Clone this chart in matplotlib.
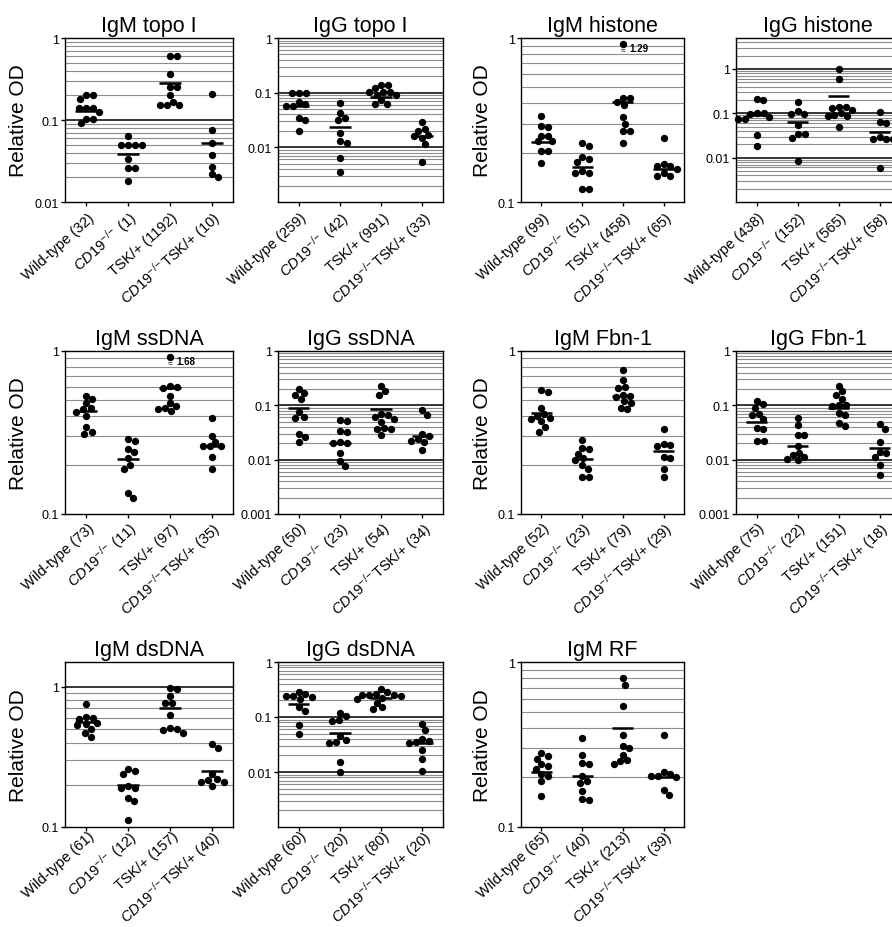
import numpy as np
import matplotlib
matplotlib.use("Agg")
import matplotlib.pyplot as plt
from matplotlib.transforms import ScaledTranslation

plt.rcParams['font.family'] = ['Liberation Sans', 'DejaVu Sans']
plt.rcParams['mathtext.fontset'] = 'custom'
plt.rcParams['mathtext.rm'] = 'Liberation Sans'
plt.rcParams['mathtext.it'] = 'Liberation Sans:italic'
plt.rcParams['mathtext.bf'] = 'Liberation Sans:bold'

# ---------------- data ----------------
group_names = ["Wild-type", r"$\mathit{CD19}^{\!-\!/\!-}$", "TSK/+", r"$\mathit{CD19}^{\!-\!/\!-}$TSK/+"]

titles = ["IgM topo I", "IgG topo I", "IgM histone", "IgG histone",
          "IgM ssDNA", "IgG ssDNA", "IgM Fbn-1", "IgG Fbn-1",
          "IgM dsDNA", "IgG dsDNA", "IgM RF"]

igm_topo1 = [[0.20, 0.20, 0.18, 0.14, 0.14, 0.14, 0.124, 0.103, 0.103, 0.091],
             [0.064, 0.050, 0.050, 0.050, 0.050, 0.033, 0.026, 0.026, 0.018],
             [0.60, 0.60, 0.36, 0.25, 0.25, 0.20, 0.168, 0.153, 0.153, 0.153],
             [0.21, 0.076, 0.052, 0.037, 0.027, 0.022, 0.020]]
igm_topo1_mean = [0.128, 0.039, 0.28, 0.053]
igm_topo1_n = [32, 1, 1192, 10]

igg_topo1 = [[0.10, 0.10, 0.10, 0.067, 0.062, 0.058, 0.058, 0.034, 0.031, 0.020],
             [0.064, 0.042, 0.034, 0.031, 0.018, 0.013, 0.012, 0.0063, 0.0036],
             [0.14, 0.14, 0.12, 0.105, 0.105, 0.105, 0.09, 0.09, 0.072, 0.062, 0.062],
             [0.029, 0.022, 0.020, 0.017, 0.016, 0.015, 0.0116, 0.0054]]
igg_topo1_mean = [0.058, 0.024, 0.083, 0.016]
igg_topo1_n = [259, 42, 991, 33]

igm_histone = [[0.333, 0.29, 0.285, 0.254, 0.254, 0.234, 0.234, 0.205, 0.205, 0.172],
               [0.229, 0.22, 0.189, 0.183, 0.176, 0.155, 0.151, 0.151, 0.12, 0.12],
               [1.29, 0.43, 0.43, 0.41, 0.39, 0.33, 0.30, 0.27, 0.27, 0.23],
               [0.245, 0.17, 0.165, 0.165, 0.16, 0.15, 0.145, 0.145]]
igm_histone_mean = [0.231, 0.164, 0.406, 0.16]
igm_histone_n = [99, 51, 458, 65]

igg_histone = [[0.215, 0.20, 0.10, 0.10, 0.097, 0.082, 0.075, 0.075, 0.032, 0.0186],
               [0.18, 0.11, 0.095, 0.095, 0.055, 0.035, 0.035, 0.028, 0.0085],
               [0.98, 0.59, 0.14, 0.14, 0.13, 0.12, 0.10, 0.09, 0.085, 0.085, 0.05],
               [0.108, 0.064, 0.062, 0.03, 0.027, 0.027, 0.026, 0.0058]]
igg_histone_mean = [0.09, 0.064, 0.243, 0.038]
igg_histone_n = [438, 152, 565, 58]

igm_ssdna = [[0.53, 0.506, 0.48, 0.45, 0.44, 0.42, 0.40, 0.34, 0.32, 0.31],
             [0.29, 0.28, 0.25, 0.24, 0.22, 0.20, 0.19, 0.135, 0.126],
             [1.68, 0.61, 0.60, 0.59, 0.53, 0.48, 0.46, 0.45, 0.44, 0.43],
             [0.39, 0.30, 0.275, 0.26, 0.26, 0.26, 0.225, 0.19]]
igm_ssdna_mean = [0.43, 0.217, 0.597, 0.262]
igm_ssdna_n = [73, 11, 97, 35]

igg_ssdna = [[0.20, 0.17, 0.155, 0.13, 0.075, 0.062, 0.058, 0.030, 0.026, 0.021],
             [0.053, 0.051, 0.033, 0.032, 0.021, 0.020, 0.020, 0.013, 0.0095, 0.0078],
             [0.23, 0.18, 0.155, 0.07, 0.065, 0.062, 0.055, 0.05, 0.038, 0.037, 0.036, 0.028],
             [0.082, 0.065, 0.030, 0.027, 0.024, 0.022, 0.021, 0.015]]
igg_ssdna_mean = [0.089, 0.020, 0.087, 0.0275]
igg_ssdna_n = [50, 23, 54, 34]

igm_fbn1 = [[0.58, 0.56, 0.45, 0.41, 0.40, 0.39, 0.38, 0.37, 0.34, 0.32],
            [0.285, 0.255, 0.25, 0.235, 0.22, 0.215, 0.20, 0.19, 0.168, 0.168],
            [0.76, 0.66, 0.60, 0.59, 0.54, 0.53, 0.52, 0.49, 0.48, 0.45, 0.44],
            [0.33, 0.27, 0.265, 0.26, 0.225, 0.22, 0.19, 0.168]]
igm_fbn1_mean = [0.417, 0.217, 0.53, 0.242]
igm_fbn1_n = [52, 23, 79, 29]

igg_fbn1 = [[0.12, 0.105, 0.09, 0.07, 0.065, 0.055, 0.038, 0.036, 0.022, 0.022],
            [0.058, 0.043, 0.029, 0.028, 0.018, 0.0135, 0.012, 0.011, 0.0105, 0.0097],
            [0.23, 0.18, 0.155, 0.13, 0.10, 0.10, 0.097, 0.072, 0.065, 0.048, 0.042],
            [0.045, 0.037, 0.021, 0.014, 0.013, 0.011, 0.008, 0.0053]]
igg_fbn1_mean = [0.05, 0.018, 0.09, 0.0167]
igg_fbn1_n = [75, 22, 151, 18]

igm_dsdna = [[0.75, 0.61, 0.60, 0.59, 0.55, 0.54, 0.53, 0.50, 0.47, 0.44],
             [0.26, 0.25, 0.24, 0.195, 0.19, 0.19, 0.16, 0.153, 0.113],
             [0.98, 0.97, 0.86, 0.77, 0.76, 0.63, 0.51, 0.50, 0.49, 0.47],
             [0.39, 0.365, 0.237, 0.22, 0.215, 0.21, 0.21, 0.195]]
igm_dsdna_mean = [0.56, 0.2, 0.70, 0.249]
igm_dsdna_n = [61, 12, 157, 40]

igg_dsdna = [[0.28, 0.26, 0.24, 0.24, 0.23, 0.21, 0.15, 0.13, 0.073, 0.05],
             [0.12, 0.105, 0.09, 0.085, 0.045, 0.038, 0.035, 0.033, 0.015, 0.0098],
             [0.32, 0.28, 0.26, 0.25, 0.25, 0.25, 0.24, 0.22, 0.21, 0.18, 0.15, 0.14],
             [0.075, 0.057, 0.039, 0.036, 0.035, 0.034, 0.025, 0.017, 0.0106]]
igg_dsdna_mean = [0.169, 0.052, 0.22, 0.033]
igg_dsdna_n = [60, 20, 80, 20]

igm_rf = [[0.28, 0.27, 0.26, 0.24, 0.235, 0.225, 0.21, 0.205, 0.19, 0.155],
          [0.345, 0.275, 0.245, 0.24, 0.205, 0.19, 0.185, 0.165, 0.148, 0.145],
          [0.80, 0.73, 0.54, 0.36, 0.31, 0.30, 0.275, 0.255, 0.25, 0.24],
          [0.36, 0.215, 0.21, 0.205, 0.205, 0.20, 0.168, 0.157]]
igm_rf_mean = [0.214, 0.204, 0.398, 0.2]
igm_rf_n = [65, 40, 213, 39]

panel_values = [igm_topo1, igg_topo1, igm_histone, igg_histone,
                igm_ssdna, igg_ssdna, igm_fbn1, igg_fbn1,
                igm_dsdna, igg_dsdna, igm_rf]
panel_means = [igm_topo1_mean, igg_topo1_mean, igm_histone_mean, igg_histone_mean,
               igm_ssdna_mean, igg_ssdna_mean, igm_fbn1_mean, igg_fbn1_mean,
               igm_dsdna_mean, igg_dsdna_mean, igm_rf_mean]
panel_n = [igm_topo1_n, igg_topo1_n, igm_histone_n, igg_histone_n,
           igm_ssdna_n, igg_ssdna_n, igm_fbn1_n, igg_fbn1_n,
           igm_dsdna_n, igg_dsdna_n, igm_rf_n]

y_min = [0.01, 0.001, 0.1, 0.001, 0.1, 0.001, 0.1, 0.001, 0.1, 0.001, 0.1]
y_max = [1, 1, 1, 5, 1, 1, 1, 1, 1.5, 1, 1]
grid_top = [1, 1, 1, 4, 1, 1, 1, 1, 1, 1, 1]
y_ticks = [[0.01, 0.1, 1], [0.01, 0.1, 1], [0.1, 1], [0.01, 0.1, 1],
           [0.1, 1], [0.001, 0.01, 0.1, 1], [0.1, 1], [0.001, 0.01, 0.1, 1],
           [0.1, 1], [0.01, 0.1, 1], [0.1, 1]]
y_ticklabels = [["0.01", "0.1", "1"], ["0.01", "0.1", "1"], ["0.1", "1"], ["0.01", "0.1", "1"],
                ["0.1", "1"], ["0.001", "0.01", "0.1", "1"], ["0.1", "1"], ["0.001", "0.01", "0.1", "1"],
                ["0.1", "1"], ["0.01", "0.1", "1"], ["0.1", "1"]]

# ---------------- layout ----------------
W, H = 892, 928
col_left = [65, 278, 521, 736]
col_right = [233, 443, 684, 900]
row_top = [39, 352, 663]
row_bot = [203, 515, 828]
row_label_pad = [6.5, 5.5, 2.0]
ylabel_x = [-0.22, None, -0.18, None]

fig = plt.figure(figsize=(W / 100, H / 100), dpi=100)

DOT_D = 7.0  # px collision diameter


def swarm(vals, ylo, yhi, h_px, px_per_unit):
    ypx = (np.log10(vals) - np.log10(ylo)) / (np.log10(yhi) - np.log10(ylo)) * h_px
    order = np.argsort(-ypx, kind="stable")
    xs = np.zeros(len(vals))
    placed = []
    for i in order:
        y = ypx[i]
        cands = [0.0]
        for (xj, yj) in placed:
            dy = abs(y - yj)
            if dy < DOT_D:
                dx = np.sqrt(DOT_D ** 2 - dy ** 2)
                cands += [xj + dx, xj - dx]
        cands = sorted(cands, key=lambda c: (abs(c), -c))
        for c in cands:
            ok = all((c - xj) ** 2 + (y - yj) ** 2 >= DOT_D ** 2 - 1e-6 for xj, yj in placed)
            if ok:
                xs[i] = c
                placed.append((c, y))
                break
    return xs / px_per_unit


for p in range(11):
    r, c = divmod(p, 4)
    l, rr = col_left[c], col_right[c]
    t, b = row_top[r], row_bot[r]
    ax = fig.add_axes([l / W, 1 - b / H, (rr - l) / W, (b - t) / H])
    ylo, yhi = y_min[p], y_max[p]
    ax.set_yscale("log")
    ax.set_ylim(ylo, yhi)
    ax.set_xlim(-0.5, 3.5)
    h_px = b - t
    ppu = (rr - l) / 4.0

    # gridlines
    k0 = int(np.floor(np.log10(ylo)))
    k1 = int(np.ceil(np.log10(yhi)))
    for k in range(k0, k1 + 1):
        for m in range(1, 10):
            v = m * 10.0 ** k
            if ylo < v <= grid_top[p] * 1.0001:
                if m == 1:
                    ax.axhline(v, color="black", lw=1.1, zorder=1)
                else:
                    ax.axhline(v, color="#8c8c8c", lw=0.8, zorder=1)

    cap = 0.92 * yhi
    for g in range(4):
        vals = np.array(panel_values[p][g], dtype=float)
        shown = np.minimum(vals, cap)
        offs = swarm(shown, ylo, yhi, h_px, ppu)
        ax.scatter(g + offs, shown, s=28, color="black", linewidths=0, zorder=3, clip_on=False)
        for v, o in zip(vals, offs):
            if v > yhi:
                tr = ax.transData
                ax.text(g + o, cap, "\u2248", fontsize=6, ha="center", va="center",
                        transform=tr + ScaledTranslation(0, -6 / 100, fig.dpi_scale_trans))
                ax.text(g + o, cap, "%.2f" % v, fontsize=7, fontweight="bold", ha="left", va="center",
                        transform=tr + ScaledTranslation(6 / 100, -4 / 100, fig.dpi_scale_trans))
        ax.hlines(panel_means[p][g], g - 0.26, g + 0.26, color="black", lw=1.8, zorder=4)

    for s in ax.spines.values():
        s.set_color("black")
        s.set_linewidth(1.0)
        s.set_zorder(5)

    ax.set_yticks(y_ticks[p])
    ax.set_yticklabels(y_ticklabels[p])
    ax.yaxis.set_minor_locator(matplotlib.ticker.NullLocator())
    ax.tick_params(axis="y", direction="out", length=3, width=1, labelsize=9, pad=1.5)

    labels = ["%s (%d)" % (nm, n) for nm, n in zip(group_names, panel_n[p])]
    ax.set_xticks(range(4))
    ax.set_xticklabels(labels, rotation=42, ha="right", va="center", rotation_mode="anchor",
                       fontsize=10.5)
    ax.tick_params(axis="x", direction="out", length=3, width=1, pad=row_label_pad[r])
    for lab in ax.get_xticklabels():
        lab.set_transform(lab.get_transform() + ScaledTranslation(6 / 100, 0, fig.dpi_scale_trans))

    ax.set_title(titles[p], fontsize=15.5, pad=5)
    if ylabel_x[c] is not None:
        ax.set_ylabel("Relative OD", fontsize=15)
        ax.yaxis.set_label_coords(ylabel_x[c], 0.5)

fig.savefig("out.png", dpi=100)
